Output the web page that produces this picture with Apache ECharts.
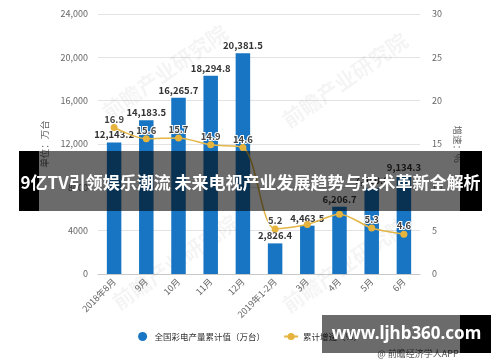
<!DOCTYPE html>
<html>
<head>
<meta charset="utf-8">
<script src="https://cdn.jsdelivr.net/npm/echarts@6/dist/echarts.min.js"></script>
<style>
html,body{margin:0;padding:0;background:#fff;}
#c{width:500px;height:362px;}
</style>
</head>
<body>
<div id="c"></div>
<script>
var categories = ['2018年8月','9月','10月','11月','12月','2019年1-2月','3月','4月','5月','6月'];
var outputValues = [12143.2, 14183.5, 16265.7, 18294.8, 20381.5, 2826.4, 4463.5, 6206.7, 7950, 9134.3];
var growthValues = [16.9, 15.6, 15.7, 14.9, 14.6, 5.2, 5.7, 6.9, 5.3, 4.6];
var hiddenGrowthLabels = [6, 7];
var leftTicks = {min: 0, max: 24000, interval: 4000};
var rightTicks = {min: 0, max: 30, interval: 5};
var seriesNames = ['全国彩电产量累计值（万台）', '累计增速（%）'];
var titleText = '9亿TV引领娱乐潮流 未来电视产业发展趋势与技术革新全解析';
var siteText = 'www.ljhb360.com';
var sourceText = '@ 前瞻经济学人APP';
var watermarkText = '前瞻产业研究院';

var FONT = '"Noto Sans CJK SC", "Noto Sans", sans-serif';
var chart = echarts.init(document.getElementById('c'), null, {renderer: 'canvas'});

function fmtNum(v, dec) {
  return Number(v).toLocaleString('en-US', {minimumFractionDigits: dec, maximumFractionDigits: dec});
}

var wmPos = [[165, 72], [345, 80], [175, 262], [345, 265]];
var watermarks = wmPos.map(function (p) {
  return {
    type: 'text', x: p[0], y: p[1], rotation: Math.PI * 35 / 180, z: 1, silent: true,
    style: {text: watermarkText, fill: 'rgba(0,0,0,0.045)', font: 'bold 21px ' + FONT, align: 'center', verticalAlign: 'middle'}
  };
});

var option = {
  animation: false,
  backgroundColor: '#fff',
  textStyle: {fontFamily: FONT},
  grid: {left: 98, right: 80, top: 14, bottom: 88, containLabel: false},
  legend: {
    bottom: 16, left: 'center', itemGap: 18, itemWidth: 14, itemHeight: 9,
    textStyle: {fontSize: 8.5, color: '#333', fontFamily: FONT},
    data: [{name: seriesNames[0], icon: 'circle'}, {name: seriesNames[1]}]
  },
  xAxis: {
    type: 'category', data: categories,
    axisLine: {lineStyle: {color: '#c8c8c8'}},
    axisTick: {alignWithLabel: true, lineStyle: {color: '#c8c8c8'}, length: 4},
    axisLabel: {rotate: 45, fontSize: 9, color: '#666', interval: 0, margin: 6}
  },
  yAxis: [{
    type: 'value', min: leftTicks.min, max: leftTicks.max, interval: leftTicks.interval,
    name: '单位：万台', nameLocation: 'middle', nameRotate: 90, nameGap: 46,
    nameTextStyle: {fontSize: 9.5, color: '#666'},
    axisLine: {show: false}, axisTick: {show: false},
    axisLabel: {fontSize: 9, color: '#666', margin: 10,
      formatter: function (v) { return v >= 10000 ? fmtNum(v, 0) : String(v); }},
    splitLine: {lineStyle: {color: '#e3e3e3'}}
  }, {
    type: 'value', min: rightTicks.min, max: rightTicks.max, interval: rightTicks.interval,
    name: '增速：%', nameLocation: 'middle', nameRotate: -90, nameGap: 24,
    nameTextStyle: {fontSize: 9.5, color: '#666'},
    axisLine: {show: false}, axisTick: {show: false},
    axisLabel: {fontSize: 9, color: '#666', margin: 12},
    splitLine: {show: false}
  }],
  series: [{
    name: seriesNames[0], type: 'bar', data: outputValues, barWidth: 14.5, yAxisIndex: 0,
    itemStyle: {color: '#1775c3'},
    label: {show: true, position: 'top', distance: 3, fontSize: 9.5, fontWeight: 'bold', color: '#333',
      formatter: function (p) { return fmtNum(p.value, 1); }}
  }, {
    name: seriesNames[1], type: 'line', data: growthValues, yAxisIndex: 1, smooth: 0.3,
    symbol: 'circle', symbolSize: 7, z: 5,
    lineStyle: {color: '#e3b646', width: 1.5},
    itemStyle: {color: '#e6b43c'},
    label: {show: true, position: 'top', distance: 0, fontSize: 9.5, fontWeight: 'bold', color: '#444',
      textBorderColor: '#fff', textBorderWidth: 2,
      formatter: function (p) { return hiddenGrowthLabels.indexOf(p.dataIndex) >= 0 ? '' : String(p.value); }}
  }],
  graphic: watermarks.concat([
    {type: 'text', x: 418, y: 354, z: 50, silent: true,
      style: {text: sourceText, fill: '#555', font: '9px ' + FONT, align: 'center', verticalAlign: 'middle'}},
    {type: 'rect', z: 100, silent: true, shape: {x: 39, y: 151, width: 421, height: 60}, style: {fill: 'rgba(0,0,0,0.58)'}},
    {type: 'rect', z: 100, silent: true, shape: {x: 19, y: 151, width: 20, height: 60}, style: {fill: '#000'}},
    {type: 'rect', z: 100, silent: true, shape: {x: 460, y: 151, width: 22, height: 60}, style: {fill: '#000'}},
    {type: 'text', z: 101, silent: true, x: 250.5, y: 183,
      style: {text: titleText, fill: '#fff', font: 'bold 17px ' + FONT, align: 'center', verticalAlign: 'middle'}},
    {type: 'rect', z: 100, silent: true, shape: {x: 322, y: 315, width: 138, height: 38}, style: {fill: 'rgba(0,0,0,0.58)'}},
    {type: 'rect', z: 100, silent: true, shape: {x: 460, y: 315, width: 31, height: 38}, style: {fill: '#000'}},
    {type: 'text', z: 101, silent: true, x: 406.5, y: 334,
      style: {text: siteText, fill: '#fff', font: 'bold 17px "Noto Sans", sans-serif', align: 'center', verticalAlign: 'middle'}}
  ])
};
chart.setOption(option);
</script>
</body>
</html>
